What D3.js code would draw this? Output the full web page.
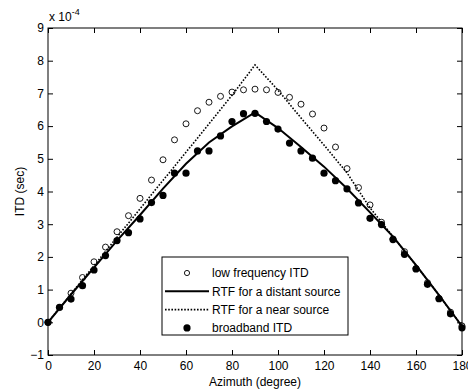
<!DOCTYPE html>
<html>
<head>
<meta charset="utf-8">
<script src="https://cdn.jsdelivr.net/npm/d3@7"></script>
<style>
  body { margin: 0; background: #fff; }
  text { font-family: "Liberation Sans", Arial, sans-serif; }
</style>
</head>
<body>
<svg id="fig" width="468" height="392"></svg>
<script>
// azimuth samples (degree)
const azDots = d3.range(0, 181, 5);
const azLine = d3.range(0, 181, 10);

// ITD values in units of 1e-4 sec
const lowFreqITD = [0, 0.45, 0.89, 1.37, 1.85, 2.30, 2.77, 3.26, 3.79, 4.35, 4.97, 5.58, 6.07, 6.47,
    6.73, 6.91, 7.04, 7.11, 7.13, 7.11, 7.03, 6.88, 6.67, 6.37, 5.94, 5.36, 4.70, 4.12, 3.59,
    3.06, 2.55, 2.16, 1.65, 1.21, 0.73, 0.31, -0.11];
const broadbandITD = [0, 0.46, 0.71, 1.12, 1.60, 2.04, 2.50, 2.74, 3.16, 3.66, 3.88, 4.56, 4.56, 5.24,
    5.24, 5.70, 6.14, 6.38, 6.39, 6.14, 5.91, 5.48, 5.24, 5.02, 4.56, 4.33, 4.08, 3.65, 3.18,
    2.99, 2.53, 2.08, 1.63, 1.16, 0.72, 0.26, -0.17];
const rtfDistant = [0, 0.85, 1.67, 2.5, 3.28, 4.09, 4.85, 5.5, 5.99, 6.42, 5.94, 5.36, 4.76, 4.09,
    3.36, 2.62, 1.75, 0.83, -0.12];
const rtfNear = [0, 0.87, 1.73, 2.6, 3.47, 4.34, 5.2, 6.07, 6.94, 7.87, 7.1, 6.25, 5.42, 4.57,
    3.5, 2.62, 1.75, 0.83, -0.12];

const xTicks = d3.range(0, 181, 20);
const yTicks = d3.range(-1, 10, 1);
const legendLabels = ['low frequency ITD', 'RTF for a distant source', 'RTF for a near source', 'broadband ITD'];

const svg = d3.select('#fig');
const margin = { top: 28, right: 6, bottom: 37, left: 48 };
const width = 468 - margin.left - margin.right;
const height = 392 - margin.top - margin.bottom;

const x = d3.scaleLinear().domain([0, 180]).range([0, width]);
const y = d3.scaleLinear().domain([-1, 9]).range([height, 0]);

const g = svg.append('g').attr('transform', `translate(${margin.left}, ${margin.top})`);

// axes: MATLAB style, ticks pointing inwards on all four sides
const styleAxis = sel => {
    sel.select('.domain').remove();
    sel.selectAll('line').attr('stroke', '#000');
    sel.selectAll('text').attr('font-size', 12).attr('fill', '#000');
};
g.append('g').attr('transform', `translate(0, ${height})`)
    .call(d3.axisBottom(x).tickValues(xTicks).tickSize(-5).tickPadding(6))
    .call(styleAxis);
g.append('g')
    .call(d3.axisTop(x).tickValues(xTicks).tickSize(-5).tickFormat(''))
    .call(styleAxis);
g.append('g')
    .call(d3.axisLeft(y).tickValues(yTicks).tickSize(-5).tickPadding(4))
    .call(styleAxis);
g.append('g').attr('transform', `translate(${width}, 0)`)
    .call(d3.axisRight(y).tickValues(yTicks).tickSize(-5).tickFormat(''))
    .call(styleAxis);

g.append('rect')
    .attr('width', width).attr('height', height)
    .attr('fill', 'none').attr('stroke', '#000').attr('stroke-width', 1);

// exponent label
const expo = g.append('text').attr('x', 1).attr('y', -7).attr('font-size', 12);
expo.append('tspan').text('x 10');
expo.append('tspan').attr('dy', -6).attr('font-size', 9).text('-4');

// lines
const line = vals => d3.line()
    .x((d, i) => x(azLine[i]))
    .y(d => y(d))(vals);

g.append('path').attr('d', line(rtfNear))
    .attr('fill', 'none').attr('stroke', '#000').attr('stroke-width', 1.6)
    .attr('stroke-dasharray', '1.6,1.6');
g.append('path').attr('d', line(rtfDistant))
    .attr('fill', 'none').attr('stroke', '#000').attr('stroke-width', 2);

// markers
g.append('g').selectAll('circle').data(lowFreqITD).join('circle')
    .attr('cx', (d, i) => x(azDots[i]))
    .attr('cy', d => y(d))
    .attr('r', 3)
    .attr('fill', 'none').attr('stroke', '#000').attr('stroke-width', 0.9);
g.append('g').selectAll('circle').data(broadbandITD).join('circle')
    .attr('cx', (d, i) => x(azDots[i]))
    .attr('cy', d => y(d))
    .attr('r', 3.6)
    .attr('fill', '#000');

// axis titles
svg.append('text')
    .attr('x', margin.left + width / 2).attr('y', 386)
    .attr('text-anchor', 'middle').attr('font-size', 12)
    .text('Azimuth (degree)');
svg.append('text')
    .attr('transform', `translate(24, ${margin.top + height / 2}) rotate(-90)`)
    .attr('text-anchor', 'middle').attr('font-size', 12)
    .text('ITD (sec)');

// legend
const legend = svg.append('g').attr('transform', 'translate(162, 257)');
legend.append('rect')
    .attr('width', 186).attr('height', 78)
    .attr('fill', '#fff').attr('stroke', '#000').attr('stroke-width', 1);
const rowY = i => 16 + i * 18.3;
legendLabels.forEach((lab, i) => {
    const row = legend.append('g').attr('transform', `translate(0, ${rowY(i)})`);
    if (i === 0) {
        row.append('circle').attr('cx', 25).attr('r', 2.6)
            .attr('fill', 'none').attr('stroke', '#000').attr('stroke-width', 0.9);
    } else if (i === 3) {
        row.append('circle').attr('cx', 25).attr('r', 3.6).attr('fill', '#000');
    } else {
        row.append('line').attr('x1', 3).attr('x2', 47)
            .attr('stroke', '#000')
            .attr('stroke-width', i === 1 ? 2 : 1.6)
            .attr('stroke-dasharray', i === 1 ? null : '1.6,1.6');
    }
    row.append('text').attr('x', 50).attr('dy', '0.35em')
        .attr('font-size', 12).text(lab);
});
</script>
</body>
</html>
